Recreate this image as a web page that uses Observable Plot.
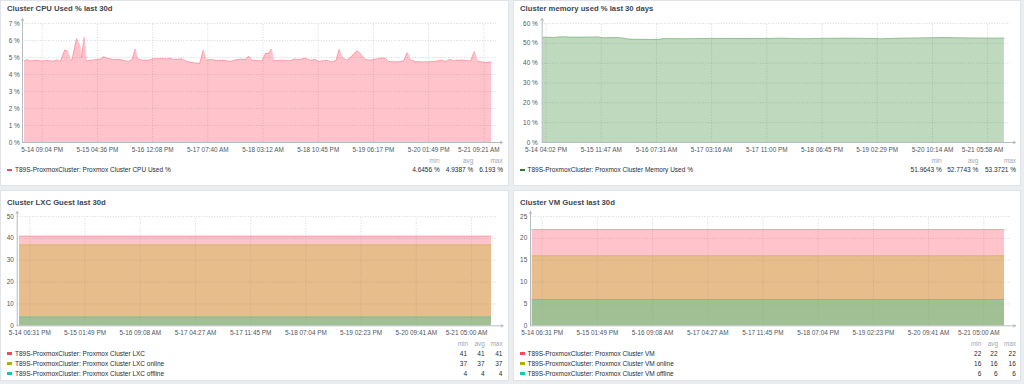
<!DOCTYPE html>
<html><head><meta charset="utf-8">
<script src="https://cdn.jsdelivr.net/npm/d3@7"></script>
<script src="https://cdn.jsdelivr.net/npm/@observablehq/plot@0.6"></script>
<style>
html,body{margin:0;padding:0;}
body{background:#ebeef0;width:1024px;height:384px;overflow:hidden;font-family:"Liberation Sans",Arial,sans-serif;}
#root{position:relative;width:1024px;height:384px;}
.panel{position:absolute;background:#fff;border:1px solid #e0e4e8;box-sizing:border-box;}
.t{position:absolute;white-space:nowrap;line-height:1;}
.title{font-weight:bold;font-size:7.7px;color:#3a4753;}
.leg{font-size:6.5px;color:#1f2c33;}
.hdr{font-size:6.4px;color:#9ca9b6;}
.sw{position:absolute;width:5px;height:2.5px;}
svg{position:absolute;overflow:visible;}
</style>
</head><body><div id="root"></div>
<script>
// ---------- DATA ----------
// CPU Used % (hours since x-domain start)
const cpuXDomain = ["5-14 02:06 PM", "5-21 03:57 PM"];
const cpuTickLabels = ["5-14 09:04 PM","5-15 04:36 PM","5-16 12:08 PM","5-17 07:40 AM","5-18 03:12 AM","5-18 10:45 PM","5-19 06:17 PM","5-20 01:49 PM","5-21 09:21 AM"];
const cpuYTicks = [0,1,2,3,4,5,6,7];
const cpuHours = [0.71,1.66,2.83,5.20,6.97,8.74,11.08,12.28,13.45,14.97,
15.82,16.99,17.59,19.11,20.17,20.88,21.83,22.65,25.23,27.60,
28.77,29.97,32.31,34.68,36.45,37.62,38.82,39.88,40.80,42.36,
44.69,46.46,48.83,51.20,52.37,53.54,55.31,56.51,57.68,59.45,
61.22,62.74,63.94,65.11,66.53,68.90,71.23,73.60,74.77,77.14,
78.91,80.08,81.28,84.82,85.99,87.16,88.11,88.92,91.30,94.83,
96.00,98.37,100.14,101.91,103.68,104.85,107.82,109.59,111.01,112.07,
113.13,114.90,116.67,118.44,119.60,121.37,123.14,124.91,126.68,128.45,
129.62,132.59,134.93,136.13,137.30,139.07,142.00,145.54,148.51,149.68,
151.45,152.62,153.82,156.16,158.53,159.94,160.90,162.67,164.44,165.96];
const cpuValues = [4.80,4.88,4.80,4.84,4.78,4.82,4.78,4.86,4.78,5.44,
5.39,4.84,4.88,6.11,5.78,5.00,6.19,4.80,4.86,4.90,
5.04,4.96,4.88,4.88,4.80,4.76,4.88,5.50,4.92,4.84,
4.84,4.92,4.94,4.92,4.96,4.88,4.90,4.92,4.80,4.72,
4.68,4.65,5.43,4.84,4.88,4.82,4.84,4.76,4.84,4.90,
4.88,5.07,4.84,4.80,5.23,5.25,5.50,4.80,4.84,4.80,
4.90,4.88,4.96,4.84,4.88,4.76,4.84,4.72,4.84,5.48,
5.00,4.84,5.09,5.39,5.23,4.88,4.84,4.90,4.96,4.96,
4.76,4.74,4.80,5.29,4.86,4.76,4.74,4.76,4.84,4.76,
4.88,4.80,4.84,4.84,4.80,5.35,4.80,4.74,4.70,4.74];
const cpuStats = ["4.6456 %","4.9387 %","6.193 %"];

// Memory Used %
const memXDomain = ["5-14 02:40 PM", "5-21 03:56 PM"];
const memTickLabels = ["5-14 04:02 PM","5-15 11:47 AM","5-16 07:31 AM","5-17 03:16 AM","5-17 11:00 PM","5-18 06:45 PM","5-19 02:29 PM","5-20 10:14 AM","5-21 05:58 AM"];
const memYTicks = [0,10,20,30,40,50,60];
const memHours = [0.2,4.1,7.7,10.1,14.9,20.2,21.5,26.8,29.2,31.6,38.7,42.3,43.5,50.6,60.2,72.1,81.6,85.2,93.5,98.3,109.1,117.4,121,128.1,135.3,143.6,152,161.5,165.3];
const memValues = [53.1,53.0,53.35,53.1,53.1,53.2,52.8,52.9,52.6,52.0,51.97,52.0,52.4,52.3,52.5,52.4,52.5,52.6,52.3,52.5,52.6,52.5,52.3,52.6,52.7,52.9,52.7,52.6,52.6];
const memStats = ["51.9643 %","52.7743 %","53.3721 %"];

// LXC guests
const lxcXDomain = ["5-14 02:06 PM", "5-21 04:06 PM"];
const guestTickLabels = ["5-14 06:31 PM","5-15 01:49 PM","5-16 09:08 AM","5-17 04:27 AM","5-17 11:45 PM","5-18 07:04 PM","5-19 02:23 PM","5-20 09:41 AM","5-21 05:00 AM"];
const lxcYTicks = [0,10,20,30,40,50];
const lxcHours = [0.8, 165.9];
const lxcTotal = [41, 41];
const lxcOnline = [37, 37];
const lxcOffline = [4, 4];
const lxcStats = [["41","41","41"],["37","37","37"],["4","4","4"]];

// VM guests
const vmXDomain = ["5-14 02:26 PM", "5-21 04:05 PM"];
const vmYTicks = [0,5,10,15,20,25];
const vmHours = [0.6, 165.8];
const vmTotal = [22, 22];
const vmOnline = [16, 16];
const vmOffline = [6, 6];
const vmStats = [["22","22","22"],["16","16","16"],["6","6","6"]];

const C_RED = "#ff465c", C_OLIVE = "#b0af07", C_TEAL = "#0ec9ac", C_GREEN = "#348a34";

// ---------- RENDER ----------
const root = document.getElementById("root");
const parse = d3.utcParse("%m-%d %I:%M %p");

function panel(x, y, w, h) {
  const d = document.createElement("div");
  d.className = "panel";
  Object.assign(d.style, {left: x + "px", top: y + "px", width: w + "px", height: h + "px"});
  root.appendChild(d);
}
function txt(x, y, s, cls, anchor) {
  const d = document.createElement("div");
  d.className = "t " + cls;
  d.textContent = s;
  const tx = anchor === "end" ? "-100%" : "0";
  Object.assign(d.style, {left: x + "px", top: y + "px", transform: `translate(${tx},-50%)`});
  root.appendChild(d);
}
function swatch(x, y, color) {
  const d = document.createElement("div");
  d.className = "sw";
  Object.assign(d.style, {left: x + "px", top: (y - 1.25) + "px", background: color});
  root.appendChild(d);
}

function chart(o) {
  const start = parse(o.xDomain[0]), end = parse(o.xDomain[1]);
  const ticks = o.tickLabels.map(parse);
  const lab = new Map(ticks.map((t, i) => [+t, o.tickLabels[i]]));
  const yMax = o.yTicks[o.yTicks.length - 1];
  const grid = {stroke: "#c9d0d6", strokeDasharray: "1,1.6", strokeWidth: 0.8};
  const axisColor = "#b4bcc4";
  const marks = [
    Plot.ruleY(o.yTicks.filter(d => d > 0), {x1: () => start, x2: () => end, insetRight: 5, ...grid}),
    Plot.ruleX(ticks, {x: d => d, y1: 0, y2: yMax, ...grid})
  ];
  for (const s of o.series) {
    const data = s.hours.map((h, i) => ({t: new Date(+start + h * 3600000), v: s.values[i]}));
    marks.push(Plot.areaY(data, {x: "t", y: "v", fill: s.color, fillOpacity: s.opacity ?? 0.32}));
    marks.push(Plot.lineY(data, {x: "t", y: "v", stroke: s.color, strokeOpacity: 0.3, strokeWidth: 1}));
  }
  marks.push(
    Plot.axisY({ticks: o.yTicks, tickFormat: o.yFmt, tickSize: 0, tickPadding: o.yPad ?? 3.5, label: null}),
    Plot.axisX({ticks: ticks.slice(0, -1), tickFormat: d => lab.get(+d), tickSize: 0, tickPadding: 5, label: null}),
    Plot.axisX({ticks: ticks.slice(-1), tickFormat: d => lab.get(+d), tickSize: 0, tickPadding: 5, dx: -5, label: null}),
    Plot.arrow([0], {x1: () => start, x2: () => start, y1: () => 0, y2: () => yMax, insetEnd: -5, headLength: 3.5, stroke: axisColor, strokeWidth: 1}),
    Plot.arrow([0], {x1: () => start, x2: () => end, y1: () => 0, y2: () => 0, headLength: 3.5, stroke: axisColor, strokeWidth: 1})
  );
  const svg = Plot.plot({
    width: o.width, height: o.height,
    marginLeft: o.mL, marginRight: o.mR, marginTop: o.mT, marginBottom: o.mB,
    x: {type: "utc", domain: [start, end], axis: null, label: null},
    y: {domain: [0, yMax], axis: null, label: null},
    style: {background: "transparent", color: "#4c5862", fontSize: "6.4px", fontFamily: "'Liberation Sans', Arial, sans-serif", overflow: "visible"},
    marks
  });
  svg.style.left = o.left + "px";
  svg.style.top = o.top + "px";
  root.appendChild(svg);
}

panel(0, 0, 509, 186);
panel(513, 0, 508, 186);
panel(0, 190, 509, 191);
panel(513, 190, 508, 191);

txt(7, 8.7, "Cluster CPU Used % last 30d", "title");
txt(520, 8.7, "Cluster memory used % last 30 days", "title");
txt(7, 202.7, "Cluster LXC Guest last 30d", "title");
txt(520, 202.7, "Cluster VM Guest last 30d", "title");

chart({left: 0, top: 16, width: 509, height: 145, mL: 22, mR: 7, mT: 7, mB: 19,
  xDomain: cpuXDomain, tickLabels: cpuTickLabels, yTicks: cpuYTicks, yFmt: d => d + " %", yPad: 2.8,
  series: [{hours: cpuHours, values: cpuValues, color: C_RED}]});
chart({left: 513, top: 16, width: 508, height: 145, mL: 28.7, mR: 6, mT: 7, mB: 19,
  xDomain: memXDomain, tickLabels: memTickLabels, yTicks: memYTicks, yFmt: d => d + " %", yPad: 4.5,
  series: [{hours: memHours, values: memValues, color: C_GREEN}]});
chart({left: 0, top: 209, width: 509, height: 135, mL: 16.7, mR: 6.3, mT: 7, mB: 18.7,
  xDomain: lxcXDomain, tickLabels: guestTickLabels, yTicks: lxcYTicks, yFmt: d => String(d), yPad: 3.4,
  series: [{hours: lxcHours, values: lxcTotal, color: C_RED},
           {hours: lxcHours, values: lxcOnline, color: C_OLIVE},
           {hours: lxcHours, values: lxcOffline, color: C_TEAL}]});
chart({left: 513, top: 209, width: 508, height: 135, mL: 17, mR: 6, mT: 7, mB: 18.7,
  xDomain: vmXDomain, tickLabels: guestTickLabels, yTicks: vmYTicks, yFmt: d => String(d), yPad: 3.3,
  series: [{hours: vmHours, values: vmTotal, color: C_RED},
           {hours: vmHours, values: vmOnline, color: C_OLIVE},
           {hours: vmHours, values: vmOffline, color: C_TEAL}]});

// Legends
function statsHeader(cols, y) {
  ["min", "avg", "max"].forEach((s, i) => txt(cols[i], y, s, "hdr", "end"));
}
function statsRow(cols, y, vals) {
  vals.forEach((s, i) => txt(cols[i], y, s, "leg", "end"));
}
// CPU
swatch(7, 170, C_RED);
txt(15, 170, "T89S-ProxmoxCluster: Proxmox Cluster CPU Used %", "leg");
statsHeader([439.5, 473.3, 502.6], 160.7);
statsRow([439.7, 473.3, 503], 170, cpuStats);
// Memory
swatch(520, 170, "#2e7d32");
txt(527.5, 170, "T89S-ProxmoxCluster: Proxmox Cluster Memory Used %", "leg");
statsHeader([941.7, 978.3, 1016], 160.7);
statsRow([941.7, 978.3, 1016], 170, memStats);
// LXC / VM
const lxcNames = ["T89S-ProxmoxCluster: Proxmox Cluster LXC","T89S-ProxmoxCluster: Proxmox Cluster LXC online","T89S-ProxmoxCluster: Proxmox Cluster LXC offline"];
const vmNames = ["T89S-ProxmoxCluster: Proxmox Cluster VM","T89S-ProxmoxCluster: Proxmox Cluster VM online","T89S-ProxmoxCluster: Proxmox Cluster VM offline"];
const legColors = [C_RED, C_OLIVE, C_TEAL];
const rowsY = [353.7, 363.7, 373.7];
statsHeader([468, 484.8, 502.6], 344);
statsHeader([981.3, 998, 1016], 344);
rowsY.forEach((y, i) => {
  swatch(7, y, legColors[i]);
  txt(15, y, lxcNames[i], "leg");
  statsRow([467, 484.5, 502.4], y, lxcStats[i]);
  swatch(520, y, legColors[i]);
  txt(527.5, y, vmNames[i], "leg");
  statsRow([981.3, 997.6, 1015.8], y, vmStats[i]);
});
</script>
</body></html>
